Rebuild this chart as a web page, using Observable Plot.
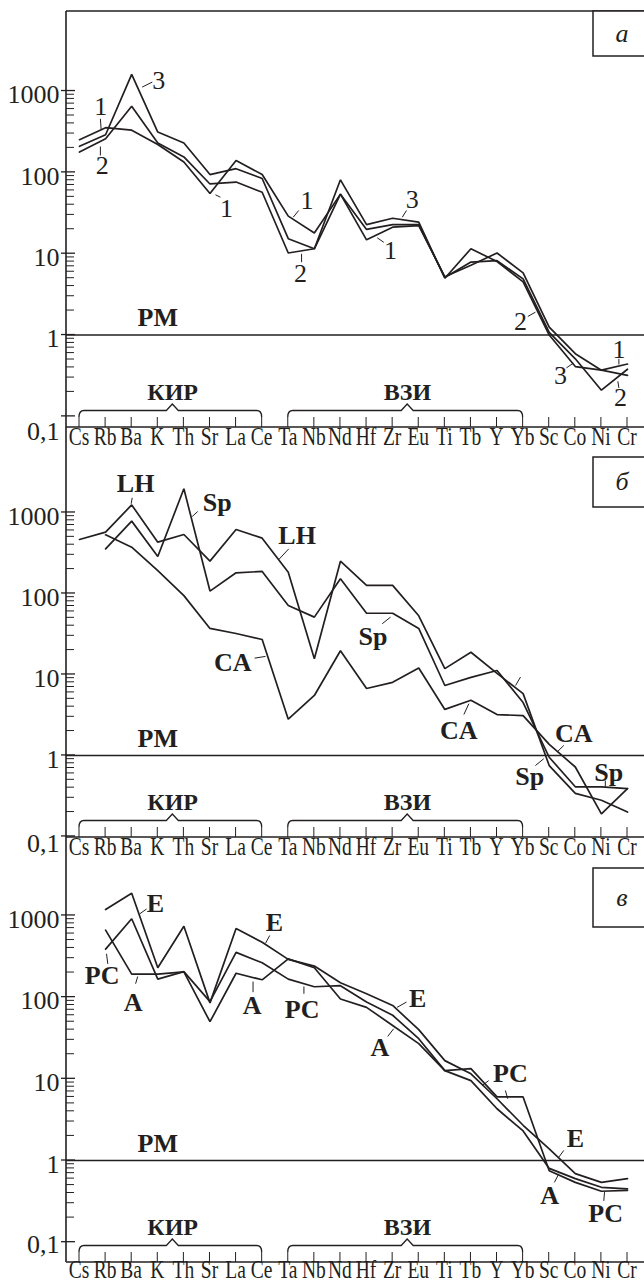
<!DOCTYPE html>
<html><head><meta charset="utf-8">
<script src="https://cdn.jsdelivr.net/npm/d3@7"></script>
<script src="https://cdn.jsdelivr.net/npm/@observablehq/plot@0.6"></script>
<style>
body{margin:0;background:#fff;}
#wrap{position:relative;width:644px;height:1283px;overflow:hidden;background:#fff;}
#wrap svg{position:absolute;left:0;}
</style></head><body><div id="wrap"></div>
<script>
const INK = "#231f20";
const FONT = "'Liberation Serif','Times New Roman',Times,serif";

// ---- categories & axis ticks ----
const cats = ["Cs","Rb","Ba","K","Th","Sr","La","Ce","Ta","Nb","Nd","Hf","Zr","Eu","Ti","Tb","Y","Yb","Sc","Co","Ni","Cr"];
const decadeTicks = [0.1, 1, 10, 100, 1000];
const decadeLabels = ["0,1", "1", "10", "100", "1000"];
const minorSteps = [2, 3, 4, 5, 6, 7, 8, 9];
const braces = [{label: "КИР", from: "Cs", to: "Ce"}, {label: "ВЗИ", from: "Ta", to: "Yb"}];
const refLabel = "PM";

// ---- panel а : series 1, 2, 3 ----
const a_1 = [252, 354, 330, 220, 134, 55, 140, 94, 29, 18, 54, 14.8, 21.2, 22.2, 5.2, 7.2, 10.2, 5.8, 1.25, 0.59, 0.37, 0.44];
const a_2 = [178, 259, 650, 230, 155, 72, 76, 57, 10.2, 11.5, 54, 19.9, 22.8, 22.8, 5.1, 7.9, 8.2, 4.9, 1.08, 0.51, 0.21, 0.38];
const a_3 = [209, 290, 1600, 313, 230, 94, 111, 84, 15.3, 11.5, 81, 22.8, 27.3, 24.4, 5.0, 11.5, 8.0, 4.5, 1.0, 0.41, 0.37, 0.32];
const a_labels = [
  {t: "1", x: 0.81, y: 634}, {t: "2", x: 0.87, y: 122}, {t: "3", x: 3.04, y: 1350},
  {t: "1", x: 5.63, y: 35.7}, {t: "1", x: 8.72, y: 45}, {t: "2", x: 8.47, y: 5.66},
  {t: "3", x: 12.75, y: 46}, {t: "1", x: 11.92, y: 10.9}, {t: "2", x: 16.9, y: 1.44},
  {t: "3", x: 18.43, y: 0.318}, {t: "1", x: 20.67, y: 0.657}, {t: "2", x: 20.73, y: 0.172}
];
const a_leaders = [
  {x1: 0.80, y1: 456, x2: 0.83, y2: 334}, {x1: 0.80, y1: 161, x2: 0.80, y2: 208},
  {x1: 2.79, y1: 1288, x2: 2.40, y2: 1117}, {x1: 5.40, y1: 49.5, x2: 5.21, y2: 53},
  {x1: 8.40, y1: 34, x2: 8.19, y2: 28.1}, {x1: 8.51, y1: 7.86, x2: 8.51, y2: 9.97},
  {x1: 12.53, y1: 34, x2: 12.37, y2: 28.1}, {x1: 11.66, y1: 13.8, x2: 11.41, y2: 15.7},
  {x1: 17.18, y1: 1.69, x2: 17.47, y2: 1.91}, {x1: 18.66, y1: 0.395, x2: 18.92, y2: 0.45},
  {x1: 20.67, y1: 0.51, x2: 20.67, y2: 0.434}, {x1: 20.67, y1: 0.224, x2: 20.63, y2: 0.27}
];

// ---- panel б : LH, Sp, CA ----
const b_LH = [464, 572, 1240, 430, 535, 251, 617, 482, 183, 15.6, 250, 126, 126, 53, 11.8, 18.8, 10.3, 5.8, 0.75, 0.34, 0.28, 0.2];
const b_Sp = [null, 356, 782, 286, 1960, 107, 180, 187, 71, 51, 152, 57, 57, 37, 7.3, 9.2, 11.2, 4.5, 0.95, 0.41, 0.41, 0.39];
const b_CA = [null, 530, 373, 192, 94, 37, 32, 27, 2.8, 5.5, 19.6, 6.7, 8.0, 12, 3.7, 4.8, 3.2, 3.1, 1.37, 0.72, 0.19, 0.39];
const b_labels = [
  {t: "LH", x: 2.15, y: 2260}, {t: "Sp", x: 5.28, y: 1340}, {t: "LH", x: 8.34, y: 520},
  {t: "CA", x: 5.87, y: 13.8}, {t: "Sp", x: 11.25, y: 28.9}, {t: "CA", x: 14.53, y: 2.04},
  {t: "CA", x: 18.94, y: 1.85}, {t: "Sp", x: 17.25, y: 0.54}, {t: "Sp", x: 20.28, y: 0.62}
];
const b_leaders = [
  {x1: 2.02, y1: 1518, x2: 1.98, y2: 1280}, {x1: 4.53, y1: 1028, x2: 4.32, y2: 893},
  {x1: 8.02, y1: 356, x2: 7.64, y2: 263}, {x1: 6.71, y1: 15.9, x2: 7.13, y2: 16.7},
  {x1: 11.6, y1: 42.3, x2: 11.92, y2: 51}, {x1: 14.73, y1: 3.2, x2: 14.92, y2: 4.35},
  {x1: 16.71, y1: 7.3, x2: 16.9, y2: 9.3}, {x1: 18.56, y1: 1.33, x2: 18.3, y2: 1.1},
  {x1: 17.47, y1: 0.75, x2: 17.79, y2: 0.91}, {x1: 20.15, y1: 0.49, x2: 20.15, y2: 0.41}
];

// ---- panel в : E, A, PC ----
const c_E = [null, 1180, 1870, 229, 738, 85, 692, 470, 290, 240, 150, 110, 79, 40, 16.7, 11.5, 5.7, 2.7, 1.39, 0.69, 0.54, 0.6];
const c_A = [null, 661, 191, 191, 204, 50, 196, 163, 294, 229, 95, 75, 45, 27, 12.6, 9.5, 4.3, 2.3, 0.8, 0.6, 0.47, 0.45];
const c_PC = [null, 387, 912, 166, 205, 88, 353, 263, 166, 134, 138, 87, 60, 31, 12.6, 13.3, 6, 6, 0.75, 0.54, 0.42, 0.43];
const c_labels = [
  {t: "E", x: 2.91, y: 1410}, {t: "PC", x: 0.87, y: 184}, {t: "A", x: 2.06, y: 86.6},
  {t: "E", x: 7.47, y: 826}, {t: "A", x: 6.62, y: 79}, {t: "PC", x: 8.53, y: 70},
  {t: "E", x: 12.96, y: 95}, {t: "A", x: 11.51, y: 24}, {t: "PC", x: 16.51, y: 11.5},
  {t: "E", x: 19.0, y: 1.84}, {t: "A", x: 18.02, y: 0.373}, {t: "PC", x: 20.16, y: 0.223}
];
const c_leaders = [
  {x1: 2.57, y1: 1200, x2: 2.31, y2: 1047}, {x1: 1.085, y1: 255, x2: 1.035, y2: 339},
  {x1: 2.15, y1: 146, x2: 2.23, y2: 179}, {x1: 7.29, y1: 568, x2: 7.13, y2: 457},
  {x1: 6.65, y1: 115, x2: 6.65, y2: 155}, {x1: 8.6, y1: 110, x2: 8.6, y2: 135},
  {x1: 12.53, y1: 87, x2: 12.17, y2: 75}, {x1: 11.81, y1: 33, x2: 12.04, y2: 41},
  {x1: 15.68, y1: 9.5, x2: 15.43, y2: 8.3}, {x1: 16.32, y1: 7.2, x2: 16.41, y2: 5.7},
  {x1: 18.56, y1: 1.33, x2: 18.37, y2: 1.1}, {x1: 18.2, y1: 0.54, x2: 18.37, y2: 0.69},
  {x1: 20.09, y1: 0.32, x2: 20.12, y2: 0.41}
];

// ---- drawing ----
function decor(opt) {
  return (index, scales, values, dim) => {
    const {x, y} = scales;
    const {width, height, marginLeft, marginTop, marginBottom} = dim;
    const b = height - marginBottom;
    const g = d3.create("svg:g").attr("fill", "none").attr("stroke", INK).attr("stroke-width", 1.5);
    const line = (x1, y1, x2, y2, w) => g.append("line").attr("x1", x1).attr("y1", y1).attr("x2", x2).attr("y2", y2).attr("stroke-width", w);
    line(marginLeft, marginTop, marginLeft, b, 1.6);
    line(marginLeft, b, width, b, 1.6);
    if (opt.topFrame) line(marginLeft, marginTop, width, marginTop, 1.6);
    for (const t of decadeTicks) line(marginLeft - 5, y(t), marginLeft + 9, y(t), 1.3);
    for (const t of decadeTicks.slice(0, -1)) for (const m of minorSteps) line(marginLeft, y(t * m), marginLeft + 8, y(t * m), 1);
    cats.forEach((c, i) => line(x(i), b, x(i), b - 10, 1));
    for (const br of braces) {
      const x0 = x(cats.indexOf(br.from)), x1 = x(cats.indexOf(br.to)), xm = (x0 + x1) / 2 + 2;
      const yb = b - 16.5;
      g.append("path").attr("stroke-width", 1.3)
        .attr("d", `M${x0},${b - 10}Q${x0},${yb} ${x0 + 5},${yb}L${xm - 6},${yb}L${xm},${yb - 6.5}L${xm + 6},${yb}L${x1 - 5},${yb}Q${x1},${yb} ${x1},${b - 10}`);
    }
    const bx = width - 51;
    g.append("rect").attr("x", bx).attr("y", opt.boxTop).attr("width", 70).attr("height", opt.boxBottom - opt.boxTop).attr("fill", "white");
    g.append("text").attr("x", bx + 29).attr("y", (opt.boxTop + opt.boxBottom) / 2).attr("dy", "0.32em")
      .attr("text-anchor", "middle").attr("font-style", "italic").attr("font-size", 26)
      .attr("fill", INK).attr("stroke", "none").text(opt.letter);
    return g.node();
  };
}

// element names under the x axis, horizontally condensed like the printed figure
function catLabels(opt) {
  return (index, {x}, values, dim) => {
    const b = dim.height - dim.marginBottom;
    const g = d3.create("svg:g").attr("fill", INK).attr("font-size", 25).attr("text-anchor", "middle");
    cats.forEach((c, i) => {
      g.append("g").attr("transform", `translate(${x(i)},${b + opt.catDy}) scale(0.78,1)`)
        .append("text").attr("dy", "0.32em").text(c);
    });
    return g.node();
  };
}

function panel(opt) {
  const rows = opt.series.flatMap(({name, values}) =>
    values.map((v, i) => ({s: name, i, v})).filter(d => d.v != null));
  return Plot.plot({
    width: 644, height: opt.height, marginTop: opt.marginTop, marginBottom: opt.marginBottom,
    marginLeft: 66, marginRight: 0,
    x: {type: "linear", domain: [0, cats.length - 1], range: [79, 627], axis: null},
    y: {type: "log", domain: opt.domain, axis: null},
    style: {background: "transparent", overflow: "visible", fontFamily: FONT, color: INK},
    marks: [
      Plot.ruleY([1], {stroke: INK, strokeWidth: 1.5}),
      decor(opt),
      Plot.line(rows, {x: "i", y: "v", z: "s", stroke: INK, strokeWidth: 1.7, strokeLinejoin: "miter"}),
      Plot.link(opt.leaders, {x1: "x1", y1: "y1", x2: "x2", y2: "y2", stroke: INK, strokeWidth: 1}),
      Plot.text(opt.labels, {x: "x", y: "y", text: "t", fontSize: 26, fontWeight: opt.labelWeight, fill: INK}),
      Plot.text(decadeTicks.slice(1), {y: d => d, frameAnchor: "left", lineAnchor: "middle", dx: -7, dy: 4, textAnchor: "end",
        text: d => decadeLabels[decadeTicks.indexOf(d)], fontSize: 26, fill: INK}),
      Plot.text([decadeTicks[0]], {y: d => d, frameAnchor: "left", lineAnchor: "middle", dx: -7, dy: opt.zeroDy, textAnchor: "end",
        text: d => decadeLabels[0], fontSize: 26, fill: INK}),
      catLabels(opt),
      Plot.text(braces, {x: d => (cats.indexOf(d.from) + cats.indexOf(d.to)) / 2 + 0.07, frameAnchor: "bottom", lineAnchor: "middle", dy: -35,
        text: "label", fontSize: 24, fontWeight: "bold", fill: INK}),
      Plot.text([refLabel], {x: 3, y: 1, dy: -17, text: d => d, fontSize: 26, fontWeight: "bold", fill: INK})
    ]
  });
}

const wrap = document.getElementById("wrap");
const panels = [
  {top: 0, height: 455, marginTop: 11, marginBottom: 28, domain: [0.073, 9500], topFrame: true, catDy: 10,
   series: [{name: "1", values: a_1}, {name: "2", values: a_2}, {name: "3", values: a_3}],
   labels: a_labels, leaders: a_leaders, labelWeight: "normal", letter: "а", boxTop: 11, boxBottom: 56, zeroDy: 15},
  {top: 427, height: 438, marginTop: 0, marginBottom: 28, domain: [0.097, 11200], topFrame: false, catDy: 10,
   series: [{name: "LH", values: b_LH}, {name: "Sp", values: b_Sp}, {name: "CA", values: b_CA}],
   labels: b_labels, leaders: b_leaders, labelWeight: "bold", letter: "б", boxTop: 30, boxBottom: 80, zeroDy: 7},
  {top: 837, height: 446, marginTop: 0, marginBottom: 21, domain: [0.0564, 9000], topFrame: false, catDy: 8,
   series: [{name: "E", values: c_E}, {name: "A", values: c_A}, {name: "PC", values: c_PC}],
   labels: c_labels, leaders: c_leaders, labelWeight: "bold", letter: "в", boxTop: 31, boxBottom: 90, zeroDy: 2}
];
for (const p of panels) {
  const svg = panel(p);
  svg.style.top = p.top + "px";
  wrap.appendChild(svg);
}
</script></body></html>
